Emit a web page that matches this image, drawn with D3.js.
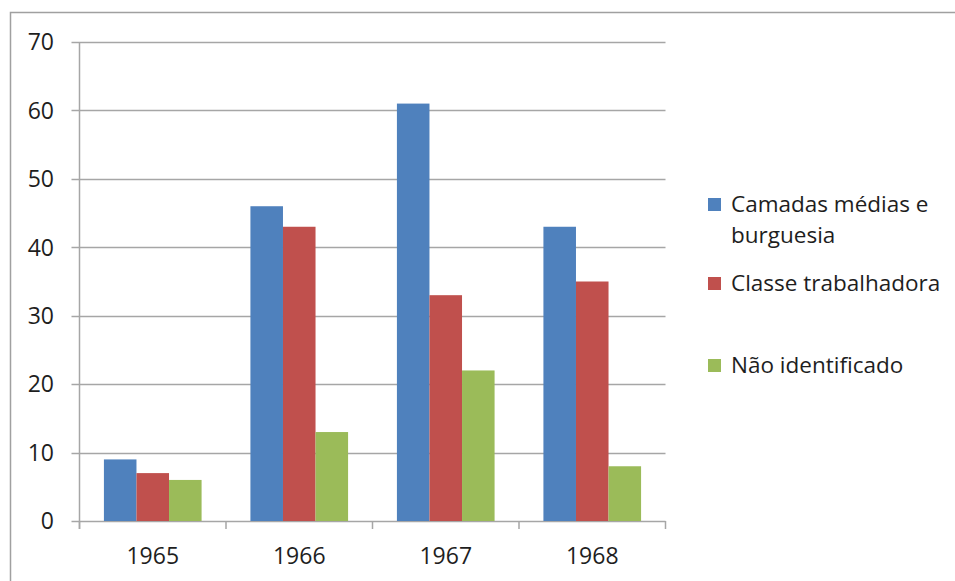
<!DOCTYPE html>
<html><head><meta charset="utf-8">
<script src="https://cdn.jsdelivr.net/npm/d3@7"></script>
<style>
html,body{margin:0;padding:0;background:#fff;}
svg{display:block;}
text{font-family:"Open Sans","Noto Sans",sans-serif;fill:#1e1e1e;}
</style></head>
<body>
<svg id="chart" width="955" height="581"></svg>
<script>
const categories = ["1965", "1966", "1967", "1968"];
const seriesNames = ["Camadas médias e burguesia", "Classe trabalhadora", "Não identificado"];
const camadas = [9, 46, 61, 43];
const classe = [7, 43, 33, 35];
const naoIdent = [6, 13, 22, 8];
const yTicks = [0, 10, 20, 30, 40, 50, 60, 70];
const colors = ["#4f81bd", "#c0504d", "#9bbb59"];
const legendLines = [["Camadas médias e", "burguesia"], ["Classe trabalhadora"], ["Não identificado"]];

(function () {
const series = [camadas, classe, naoIdent];
const svg = d3.select("#chart");

// outer border
svg.append("path").attr("d", "M10.5,581 V12.5 H955")
  .attr("fill", "none").attr("stroke", "#a0a0a0").attr("stroke-width", 1.5);

const pLeft = 79.5, pRight = 665.5, pTop = 42, pBottom = 521;
const x = d3.scaleBand().domain(categories).range([pLeft, pRight]).paddingInner(0).paddingOuter(0);
const y = d3.scaleLinear().domain([0, 70]).range([pBottom, pTop]);

// gridlines
svg.append("g").selectAll("line").data(yTicks).join("line")
  .attr("x1", pLeft - 8).attr("x2", pRight)
  .attr("y1", d => Math.round(y(d)) + 0.5).attr("y2", d => Math.round(y(d)) + 0.5)
  .attr("stroke", "#a6a6a6").attr("stroke-width", 1.5);

// y axis line
svg.append("line").attr("x1", pLeft).attr("x2", pLeft).attr("y1", pTop).attr("y2", pBottom + 8)
  .attr("stroke", "#a6a6a6").attr("stroke-width", 1.5);

// category ticks
const bounds = categories.map(c => x(c)).concat([x(categories[categories.length - 1]) + x.bandwidth()]);
svg.append("g").selectAll("line").data(bounds).join("line")
  .attr("x1", d => d).attr("x2", d => d).attr("y1", pBottom).attr("y2", pBottom + 8)
  .attr("stroke", "#a6a6a6").attr("stroke-width", 1.5);

// bars
const gapRatio = 1.5;
const bw = x.bandwidth() / (3 + gapRatio);
const x1 = d3.scaleBand().domain(d3.range(3)).range([0, 3 * bw]);
const g = svg.append("g");
series.forEach((vals, si) => {
  g.selectAll(null).data(vals).join("rect")
    .attr("x", (d, i) => x(categories[i]) + (x.bandwidth() - 3 * bw) / 2 + x1(si))
    .attr("width", bw)
    .attr("y", d => y(d))
    .attr("height", d => y(0) - y(d))
    .attr("fill", colors[si]);
});

// y labels
svg.append("g").selectAll("text").data(yTicks).join("text")
  .attr("x", 54).attr("y", d => y(d)).attr("dy", "0.36em")
  .attr("text-anchor", "end").attr("font-size", 23).text(d => d);

// x labels
svg.append("g").selectAll("text").data(categories).join("text")
  .attr("x", d => x(d) + x.bandwidth() / 2).attr("y", 564)
  .attr("text-anchor", "middle").attr("font-size", 23).text(d => d);

// legend
const legendY = [212, 291, 373];
const lg = svg.append("g");
seriesNames.forEach((name, i) => {
  lg.append("rect").attr("x", 708).attr("y", legendY[i] - 14).attr("width", 13).attr("height", 13)
    .attr("fill", colors[i]);
  const t = lg.append("text").attr("x", 731).attr("y", legendY[i]).attr("font-size", 22.5);
  legendLines[i].forEach((ln, j) => {
    t.append("tspan").attr("x", 731).attr("dy", j === 0 ? 0 : 31).text(ln);
  });
});
})();
</script>
</body></html>
